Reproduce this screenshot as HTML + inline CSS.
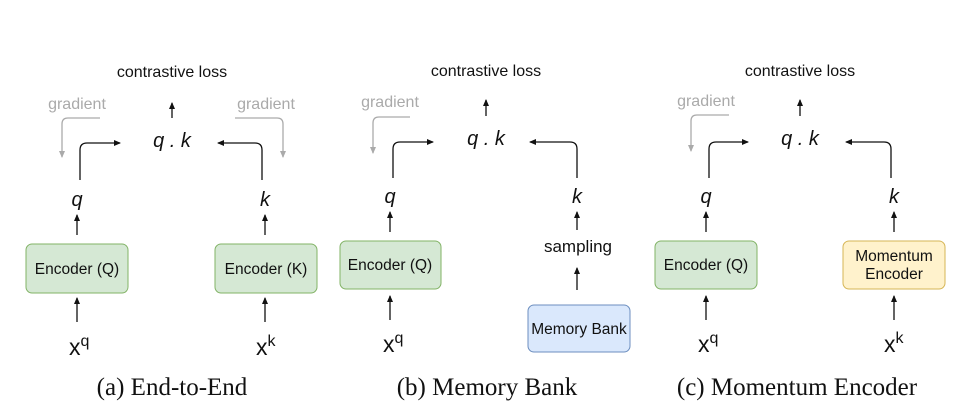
<!DOCTYPE html>
<html><head><meta charset="utf-8"><style>
html,body{margin:0;padding:0;background:#fff;width:971px;height:414px;overflow:hidden}
text{font-family:"Liberation Sans",sans-serif}
</style></head><body>
<svg width="971" height="414" viewBox="0 0 971 414" xmlns="http://www.w3.org/2000/svg">
<defs>
<marker id="a" markerWidth="8" markerHeight="8" refX="6" refY="4" orient="auto" markerUnits="userSpaceOnUse"><path d="M0,1 L7,4 L0,7 Z" fill="#111"/></marker>
<marker id="g" markerWidth="8" markerHeight="8" refX="6" refY="4" orient="auto" markerUnits="userSpaceOnUse"><path d="M0,1 L7,4 L0,7 Z" fill="#aaa"/></marker>
</defs>
<g fill="none" stroke="#111" stroke-width="1.3">
<path d="M172,118 V103" marker-end="url(#a)"/>
<path d="M80,180 V150 Q80,143 87,143 H120" marker-end="url(#a)"/>
<path d="M262,180 V150 Q262,143 255,143 H218" marker-end="url(#a)"/>
<path d="M77,235 V215" marker-end="url(#a)"/>
<path d="M77,322 V298" marker-end="url(#a)"/>
<path d="M265,235 V215" marker-end="url(#a)"/>
<path d="M265,322 V298" marker-end="url(#a)"/>
<path d="M486,116 V100" marker-end="url(#a)"/>
<path d="M393,178 V149 Q393,142 400,142 H433" marker-end="url(#a)"/>
<path d="M577,178 V149 Q577,142 570,142 H530" marker-end="url(#a)"/>
<path d="M390,232 V212" marker-end="url(#a)"/>
<path d="M390,320 V296" marker-end="url(#a)"/>
<path d="M577,230 V212" marker-end="url(#a)"/>
<path d="M577,290 V268" marker-end="url(#a)"/>
<path d="M800,116 V100" marker-end="url(#a)"/>
<path d="M709,178 V149 Q709,142 716,142 H748" marker-end="url(#a)"/>
<path d="M891,178 V149 Q891,142 884,142 H846" marker-end="url(#a)"/>
<path d="M706,232 V212" marker-end="url(#a)"/>
<path d="M706,320 V296" marker-end="url(#a)"/>
<path d="M894,232 V212" marker-end="url(#a)"/>
<path d="M894,320 V296" marker-end="url(#a)"/>
</g>
<g fill="none" stroke="#aaa" stroke-width="1.3">
<path d="M100,118 H68 Q62,118 62,124 V157" marker-end="url(#g)"/>
<path d="M235,118 H277 Q283,118 283,124 V157" marker-end="url(#g)"/>
<path d="M410,117 H379 Q373,117 373,123 V153" marker-end="url(#g)"/>
<path d="M729,115 H697 Q691,115 691,121 V151" marker-end="url(#g)"/>
</g>
<g stroke-width="1">
<rect x="26" y="244" width="102" height="49" rx="6" fill="#d5e8d4" stroke="#82b366"/>
<rect x="215" y="244" width="102" height="49" rx="6" fill="#d5e8d4" stroke="#82b366"/>
<rect x="340" y="241" width="101" height="48" rx="6" fill="#d5e8d4" stroke="#82b366"/>
<rect x="528" y="305" width="102" height="47" rx="6" fill="#dae8fc" stroke="#6c8ebf"/>
<rect x="655" y="241" width="102" height="48" rx="6" fill="#d5e8d4" stroke="#82b366"/>
<rect x="843" y="241" width="102" height="48" rx="6" fill="#fff2cc" stroke="#d6b656"/>
</g>
<g font-size="16" fill="#111" text-anchor="middle">
<text x="172" y="77">contrastive loss</text>
<text x="486" y="76">contrastive loss</text>
<text x="800" y="76">contrastive loss</text>
</g>
<g font-size="15.5" fill="#111" text-anchor="middle">
<text x="77" y="274">Encoder (Q)</text>
<text x="266" y="274">Encoder (K)</text>
<text x="390" y="270">Encoder (Q)</text>
<text x="579" y="334">Memory Bank</text>
<text x="706" y="270">Encoder (Q)</text>
<text x="894" y="261">Momentum</text>
<text x="894" y="279">Encoder</text>
<text x="578" y="252" font-size="17">sampling</text>
</g>
<g font-size="16" fill="#aaa" text-anchor="middle">
<text x="77" y="109">gradient</text>
<text x="266" y="109">gradient</text>
<text x="390" y="107">gradient</text>
<text x="706" y="106">gradient</text>
</g>
<g font-size="20" fill="#111" text-anchor="middle" font-style="italic">
<text x="172" y="147">q . k</text>
<text x="486" y="145">q . k</text>
<text x="800" y="145">q . k</text>
<text x="77" y="206">q</text>
<text x="265" y="206">k</text>
<text x="390" y="203">q</text>
<text x="577" y="203">k</text>
<text x="706" y="203">q</text>
<text x="894" y="203">k</text>
</g>
<g font-size="23" fill="#111">
<text x="69" y="355">x<tspan font-size="16" dy="-9">q</tspan></text>
<text x="256" y="355">x<tspan font-size="16" dy="-9">k</tspan></text>
<text x="383" y="352">x<tspan font-size="16" dy="-9">q</tspan></text>
<text x="698" y="352">x<tspan font-size="16" dy="-9">q</tspan></text>
<text x="884" y="352">x<tspan font-size="16" dy="-9">k</tspan></text>
</g>
<g font-size="25" fill="#111" text-anchor="middle">
<text x="172" y="395" style="font-family:'Liberation Serif',serif">(a) End-to-End</text>
<text x="487" y="395" style="font-family:'Liberation Serif',serif">(b) Memory Bank</text>
<text x="797" y="395" style="font-family:'Liberation Serif',serif">(c) Momentum Encoder</text>
</g>
</svg>
</body></html>
